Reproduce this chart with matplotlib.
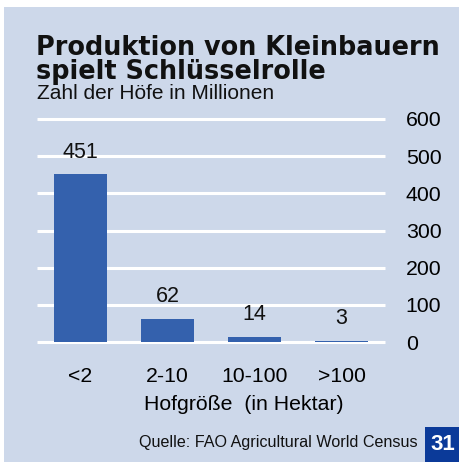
import matplotlib
matplotlib.use("Agg")
import matplotlib.pyplot as plt
from matplotlib.patches import Rectangle

categories = ["<2", "2-10", "10-100", ">100"]
values = [451, 62, 14, 3]
yticks = [0, 100, 200, 300, 400, 500, 600]

plt.rcParams['font.family'] = ['Liberation Sans', 'DejaVu Sans']

W, H = 459, 462
fig = plt.figure(figsize=(W/100, H/100), dpi=100)
fig.patch.set_facecolor("white")

panel = "#cdd8ea"
fig.patches.append(Rectangle((4/W, 0), 1 - 4/W, 1 - 7/H, transform=fig.transFigure,
                             facecolor=panel, edgecolor="none", zorder=-10))

ax = fig.add_axes([37/W, (H-342)/H, (385-37)/W, (342-119)/H])
ax.set_zorder(2)
ax.set_facecolor("none")
for s in ax.spines.values():
    s.set_visible(False)

x = list(range(len(categories)))
ax.hlines(yticks, -0.5, 3.5, colors="white", lw=2.2, zorder=1, clip_on=False)
bars = ax.bar(x, values, width=0.62, color="#3461ad", zorder=2)
for xi, v in zip(x, values):
    ax.annotate(str(v), (xi, v), xytext=(0, 16), textcoords="offset points",
                ha="center", va="center", fontsize=15.5, color="#111111")

ax.set_xlim(-0.5, 3.5)
ax.set_ylim(0, 600)
ax.set_xticks(x)
ax.set_xticklabels(categories, fontsize=15.3)
ax.set_yticks(yticks)
ax.set_yticklabels([str(t) for t in yticks], fontsize=15.3)
ax.yaxis.tick_right()
ax.tick_params(axis="y", length=0, pad=15)
ax.tick_params(axis="x", length=0, pad=18)
ax.set_xlabel("Hofgröße  (in Hektar)", fontsize=15.3, va="center", ha="center")
ax.xaxis.set_label_coords((243.5 - 37) / 348, (342 - 405) / 223)

fig.text(36/W, 1 - 79/H, "Produktion von Kleinbauern\nspielt Schlüsselrolle",
         fontsize=18.4, fontweight="heavy", family=["DejaVu Sans"], color="#111111",
         va="baseline", linespacing=0.92)
fig.text(37/W, 1 - 99/H, "Zahl der Höfe in Millionen", fontsize=15, color="#111111",
         va="baseline")

fig.text(418/W, 1 - 443/H, "Quelle: FAO Agricultural World Census", fontsize=11.6,
         ha="right", va="center", color="#111111")
fig.patches.append(Rectangle((425/W, 0), 1 - 425/W, 35/H, transform=fig.transFigure,
                             facecolor="#0b3a99", edgecolor="none", zorder=1))
fig.text(443/W, 17/H, "31", fontsize=16, fontweight="bold", color="white",
         ha="center", va="center", zorder=3)

fig.savefig("out.png", dpi=100, facecolor=fig.get_facecolor())
